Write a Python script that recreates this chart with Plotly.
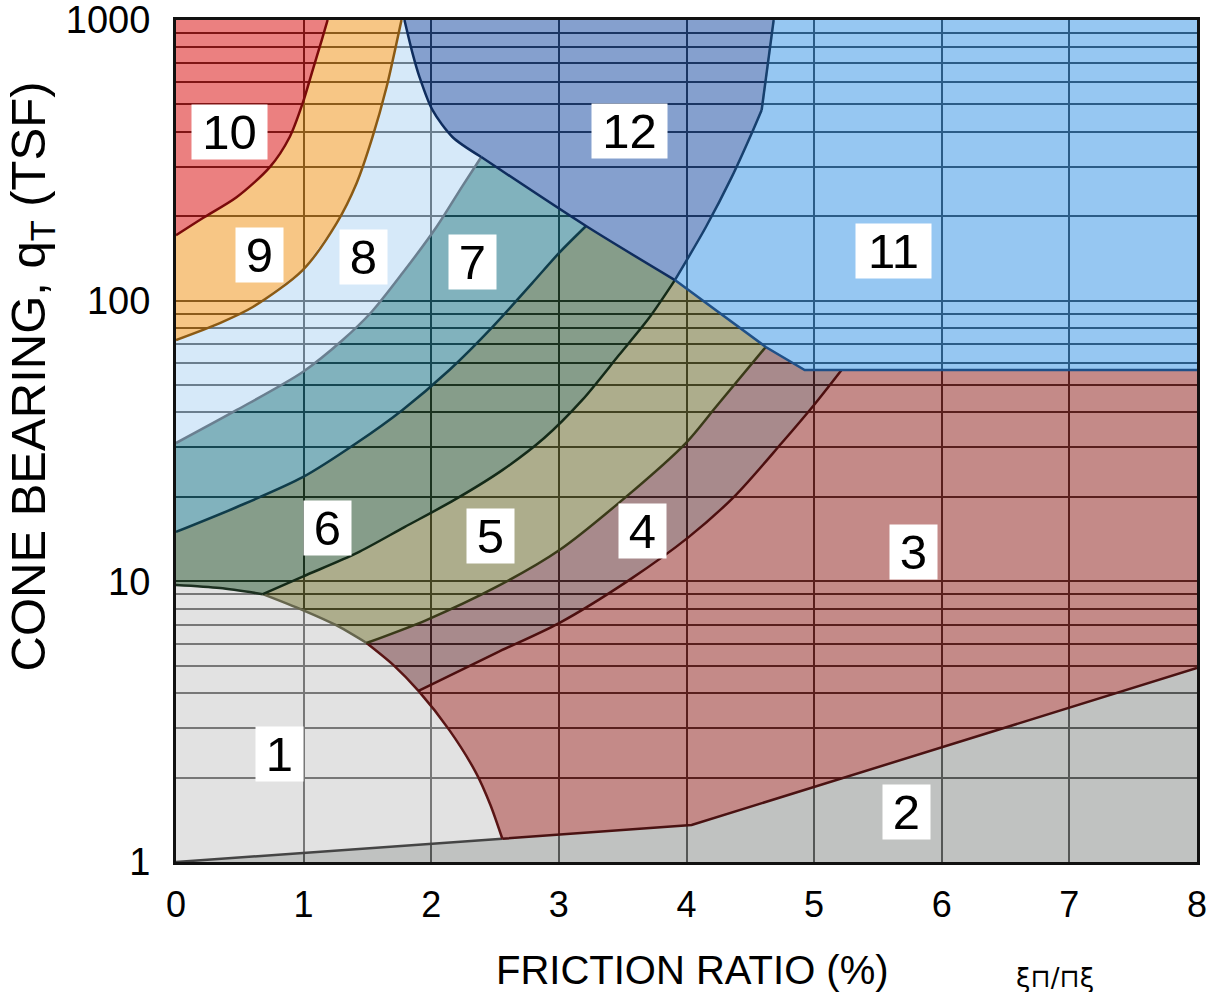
import math
import plotly.graph_objects as go

# Soil behaviour type chart: friction ratio (%) against cone bearing qT (TSF).
# Zone boundaries, each listed as friction ratio / cone bearing pairs.
b2_x = [0.0, 2.557, 4.04, 8.0]                      # top of zone 2
b2_q = [1.0, 1.21, 1.355, 4.91]

arc_x = [0.0, 0.344, 0.68, 0.993, 1.251, 1.493, 1.704, 1.900, 2.142, 2.353, 2.463, 2.557]   # top of zone 1
arc_q = [9.7, 9.46, 9.0, 7.9, 6.99, 6.03, 5.03, 4.07, 2.95, 2.07, 1.60, 1.21]

b43_x = [1.900, 2.510, 3.002, 3.550, 4.019, 4.386, 4.746, 5.012, 5.215]   # zone 4 / zone 3
b43_q = [4.07, 5.56, 7.10, 10.1, 14.4, 20.3, 31.1, 43.2, 56.6]

b54_x = [1.493, 1.962, 2.510, 3.002, 3.526, 3.995, 4.230, 4.621]          # zone 5 / zone 4
b54_q = [6.03, 7.28, 9.55, 12.9, 20.0, 31.1, 41.8, 68.4]

b65_x = [0.68, 0.993, 1.415, 1.790, 2.181, 2.557, 2.885, 3.182, 3.471, 3.706, 3.909]   # zone 6 / zone 5
b65_q = [9.0, 10.4, 12.6, 15.6, 19.5, 24.9, 32.4, 44.2, 64.0, 86.7, 118.4]

b76_x = [0.0, 0.477, 0.993, 1.415, 1.775, 2.142, 2.479, 2.791, 3.002, 3.213]   # zone 7 / zone 6
b76_q = [15.0, 18.4, 23.5, 31.1, 40.8, 56.6, 80.5, 115.5, 148.0, 184.5]

b87_x = [0.0, 0.477, 0.993, 1.306, 1.532, 1.775, 2.041, 2.244, 2.392]       # zone 8 / zone 7
b87_q = [31.1, 40.8, 55.7, 72.4, 91.1, 125.4, 183.0, 256.0, 325.0]

b98_x = [0.0, 0.344, 0.602, 0.993, 1.259, 1.415, 1.540, 1.650, 1.728, 1.767]   # zone 9 / zone 8
b98_q = [72.4, 83.2, 94.9, 128.5, 189.0, 262.0, 383.0, 577.0, 828.0, 1000.0]

b109_x = [0.0, 0.211, 0.477, 0.735, 0.891, 0.993, 1.071, 1.142, 1.188]     # zone 10 / zone 9
b109_q = [171.0, 197.0, 234.0, 299.0, 383.0, 506.0, 663.0, 848.0, 1000.0]

l12_x = [1.790, 1.853, 1.908, 2.009, 2.166, 2.392]                          # left side of zone 12
l12_q = [1000.0, 762.0, 626.0, 478.0, 383.0, 325.0]

low_x = [2.392, 3.213, 3.909, 4.621, 4.926, 8.0]                            # lower edge of zones 12 and 11
low_q = [325.0, 184.5, 118.4, 68.4, 56.6, 56.6]

r12_x = [3.909, 4.152, 4.355, 4.511, 4.589, 4.683]                          # zone 12 / zone 11
r12_q = [118.4, 183.0, 276.0, 395.0, 478.0, 1000.0]

zone_names = ["1", "2", "3", "4", "5", "6", "7", "8", "9", "10", "11", "12"]
label_x = [0.813, 5.723, 5.778, 3.659, 2.463, 1.188, 2.322, 1.470, 0.657, 0.422, 5.622, 3.550]
label_q = [2.43, 1.51, 12.7, 15.1, 14.5, 15.5, 137.0, 143.0, 145.0, 399.0, 150.0, 402.0]

X_RANGE = [0, 8]
Q_RANGE = [1, 1000]
x_ticks = [0, 1, 2, 3, 4, 5, 6, 7, 8]
q_ticks = [1, 10, 100, 1000]
q_minor = [m * d for d in (1, 10, 100) for m in range(2, 10)]

# zone colours; fills are translucent so the grid shows through
ALPHA = 0.58
zone_rgb = {
    "1": (205, 205, 205), "2": (146, 150, 148), "3": (153, 53, 50), "4": (105, 53, 57),
    "5": (114, 114, 57), "6": (46, 86, 53), "7": (38, 122, 141), "8": (184, 217, 245),
    "9": (241, 157, 45), "10": (221, 36, 36), "11": (74, 158, 233), "12": (45, 91, 171),
}


def pts(xs, qs):
    return list(zip(xs, qs))


def rev(p):
    return p[::-1]


A = pts(b2_x, b2_q)
ARC = pts(arc_x, arc_q)
B43 = pts(b43_x, b43_q)
B54 = pts(b54_x, b54_q)
B65 = pts(b65_x, b65_q)
B76 = pts(b76_x, b76_q)
B87 = pts(b87_x, b87_q)
B98 = pts(b98_x, b98_q)
B109 = pts(b109_x, b109_q)
L12 = pts(l12_x, l12_q)
LOW = pts(low_x, low_q)
R12 = pts(r12_x, r12_q)

x0, x1 = X_RANGE
q0, q1 = Q_RANGE
zones = {
    "1": A[:2] + rev(ARC),
    "2": A + [(x1, q0)],
    "3": A[1:] + [LOW[-1]] + rev(B43) + ARC[7:],
    "4": B43 + rev(LOW[3:5]) + rev(B54) + ARC[5:8],
    "5": B54 + rev(LOW[2:4]) + rev(B65) + ARC[2:6],
    "6": B65 + rev(LOW[1:3]) + rev(B76) + ARC[0:3],
    "7": B76 + rev(LOW[0:2]) + rev(B87),
    "8": B87 + rev(L12) + rev(B98),
    "9": B98 + rev(B109),
    "10": B109 + [(x0, q1)],
    "12": L12 + LOW[1:3] + R12,
    "11": R12 + [(x1, q1)] + rev(LOW[2:]),
}

# boundary lines: (points, colour, smoothed)
outlines = [
    (A[:2], "#454545", False),
    (A[1:], "#4a1212", False),
    (ARC[0:3], "#1c3020", True),
    (ARC[2:6], "#66664e", True),
    (ARC[5:], "#5a1515", True),
    (B43, "#4d0f0f", True),
    (B54, "#3a3a18", True),
    (B65, "#142a18", True),
    (B76, "#0f3c4a", True),
    (B87, "#6a7f90", True),
    (B98, "#8b5a14", True),
    (B109, "#7a0a0a", True),
    (L12, "#0f2d5e", True),
    (LOW[0:3], "#0f2d5e", True),
    (R12[:5], "#17406e", True),
    (R12[4:], "#17406e", False),
    (LOW[2:], "#1f5088", False),
]

fig = go.Figure()

# translucent zone fills
for z, p in zones.items():
    r, g, b = zone_rgb[z]
    fig.add_trace(go.Scatter(
        x=[v[0] for v in p], y=[v[1] for v in p], mode="lines", fill="toself",
        fillcolor=f"rgba({r},{g},{b},{ALPHA})", line=dict(width=0, color="rgba(0,0,0,0)"),
        hoverinfo="skip", showlegend=False))

# zone boundaries
for p, col, smooth in outlines:
    fig.add_trace(go.Scatter(
        x=[v[0] for v in p], y=[v[1] for v in p], mode="lines",
        line=dict(width=2.5, color=col, shape="spline" if smooth else "linear", smoothing=0.8),
        hoverinfo="skip", showlegend=False))

# zone number labels
for name, lx, lq in zip(zone_names, label_x, label_q):
    fig.add_annotation(
        x=lx, y=math.log10(lq), text=name, showarrow=False,
        font=dict(family="Liberation Sans, Arial, sans-serif", size=49, color="black"),
        bgcolor="white", borderpad=0, width=47 if len(name) == 1 else 75, height=54,
        align="center", valign="middle")

# axis titles
fig.add_annotation(
    xref="paper", yref="paper", x=0.506, y=-0.128, xanchor="center", yanchor="middle",
    text="FRICTION RATIO (%)", showarrow=False,
    font=dict(family="Liberation Sans, Arial, sans-serif", size=40, color="black"))
fig.add_annotation(
    xref="paper", yref="paper", x=-0.1417, y=0.577, xanchor="center", yanchor="middle",
    text="CONE BEARING, q<sub>T</sub> (TSF)", textangle=-90, showarrow=False,
    font=dict(family="Liberation Sans, Arial, sans-serif", size=49, color="black"))
fig.add_annotation(
    xref="paper", yref="paper", x=0.861, y=-0.138, xanchor="center", yanchor="middle",
    text="ξ⊓/⊓ξ", showarrow=False,
    font=dict(family="DejaVu Sans, sans-serif", size=26, color="black"))

fig.update_xaxes(
    range=X_RANGE, tickvals=x_ticks, showgrid=True, gridcolor="black", gridwidth=1.8,
    zeroline=False, showline=True, linecolor="#111111", linewidth=3, mirror=True,
    ticks="", ticklabelstandoff=9, automargin=False, ticklabeloverflow="allow",
    tickfont=dict(family="Liberation Sans, Arial, sans-serif", size=36, color="black"))
fig.update_yaxes(
    type="log", range=[0, 3], tickvals=q_ticks, ticktext=[str(t) for t in q_ticks],
    showgrid=True, gridcolor="black", gridwidth=1.8,
    minor=dict(tickvals=q_minor, showgrid=True, gridcolor="black", gridwidth=1.8, ticks=""),
    zeroline=False, showline=True, linecolor="#111111", linewidth=3, mirror=True,
    ticks="", ticklabelstandoff=15, automargin=False, ticklabeloverflow="allow",
    tickfont=dict(family="Liberation Sans, Arial, sans-serif", size=38, color="black"))

fig.update_layout(
    width=1208, height=992, margin=dict(l=176, r=11, t=20, b=130),
    plot_bgcolor="white", paper_bgcolor="white", showlegend=False)

fig.write_html("out.html")
